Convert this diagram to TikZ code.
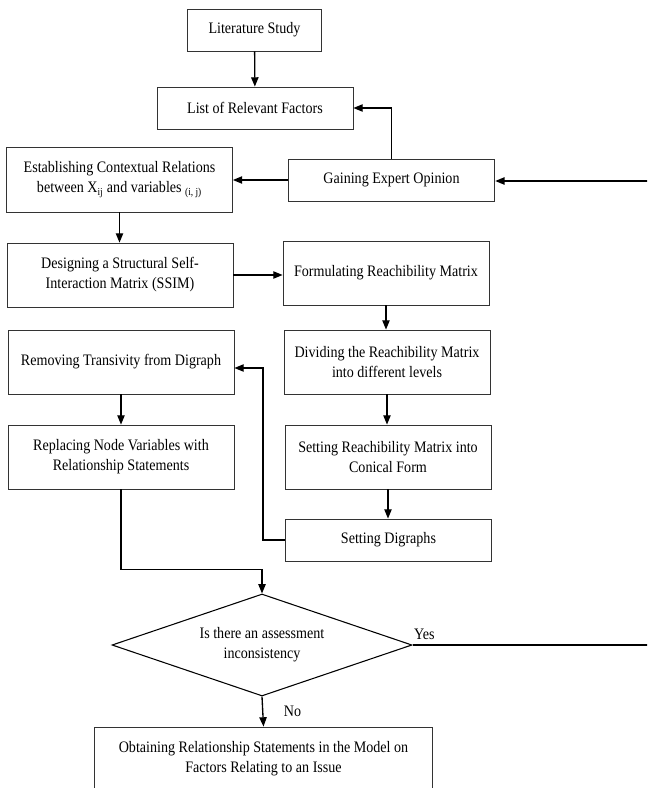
\documentclass[tikz,border=0pt]{standalone}
\usepackage{fontspec}
\setmainfont{Liberation Serif}[FakeStretch=0.88]
\usetikzlibrary{shapes.geometric,arrows.meta}

\begin{document}
\begin{tikzpicture}[
    x=0.75pt, y=-0.75pt,
    font=\fontsize{12pt}{15pt}\selectfont,
    block/.style={rectangle, draw=black!80, line width=0.6pt, align=center, inner sep=2pt, minimum height=31.5pt},
    leftblock/.style={block, minimum width=169.5pt, minimum height=48pt},
    rightblock/.style={block, minimum width=154.5pt, minimum height=48pt},
    decision/.style={diamond, draw, line width=0.8pt, aspect=2.94, inner sep=0pt, minimum width=225pt, minimum height=76.5pt, align=center},
    line/.style={line width=1pt},
    arrow/.style={line, -{Triangle[length=7pt, width=5.5pt]}}
]
    \clip (0,0) rectangle (647,788);

    % top part
    \node [block, minimum width=101pt] (lit) at (254.5,30) {Literature Study};
    \node [block, minimum width=147pt] (list) at (255,108) {List of Relevant Factors};
    \node [leftblock, minimum height=48.75pt] (estab) at (119.5,179.5) {Establishing Contextual Relations\\between X\textsubscript{ij} and variables \textsubscript{(i, j)}};
    \node [block, minimum width=155pt] (gain) at (391.5,180) {Gaining Expert Opinion};

    % left column
    \node [leftblock] (design) at (120,275) {Designing a Structural Self-\\Interaction Matrix (SSIM)};
    \node [leftblock] (remove) at (121,362) {Removing Transivity from Digraph};
    \node [leftblock] (replace) at (121,457) {Replacing Node Variables with\\Relationship Statements};

    % right column
    \node [rightblock] (formul) at (386,273) {Formulating Reachibility Matrix};
    \node [rightblock] (divide) at (387,362) {Dividing the Reachibility Matrix\\into different levels};
    \node [rightblock] (setreach) at (388,457) {Setting Reachibility Matrix into\\Conical Form};
    \node [block, minimum width=155pt] (digraph) at (388.5,540) {Setting Digraphs};

    % decision and result
    \node [decision] (decide) at (262,645) {Is there an assessment\\inconsistency};
    \node [block, minimum width=254pt, minimum height=48pt] (final) at (263.5,759) {Obtaining Relationship Statements in the Model on\\Factors Relating to an Issue};

    \coordinate (back) at (263,368);
    \coordinate (loopa) at (650,645);
    \coordinate (loopb) at (650,181);

    \draw [arrow] (lit) -- (list);
    \draw [arrow] (gain.north) |- (list.east);
    \draw [arrow] (gain.west) -- (gain.west -| estab.east);
    \draw [arrow] (loopb) -- (loopb -| gain.east);
    \draw [arrow] (estab.south) -- (estab.south |- design.north);
    \draw [arrow] (design.east) -- (design.east -| formul.west);
    \draw [arrow] (formul.south) -- (formul.south |- divide.north);
    \draw [arrow] (divide.south) -- (divide.south |- setreach.north);
    \draw [arrow] (setreach.south) -- (setreach.south |- digraph.north);
    \draw [arrow] (digraph.west) -| (back) -- (back -| remove.east);
    \draw [arrow] (remove.south) -- (remove.south |- replace.north);
    \draw [arrow] (replace.south) -- ++(0,80) -| (decide.north);
    \draw [line] (decide.east) -- (loopa) node[pos=0.05, above] {Yes};
    \draw [arrow] (decide.south) -- (final.north) node[midway, right, xshift=12pt] {No};
\end{tikzpicture}
\end{document}
